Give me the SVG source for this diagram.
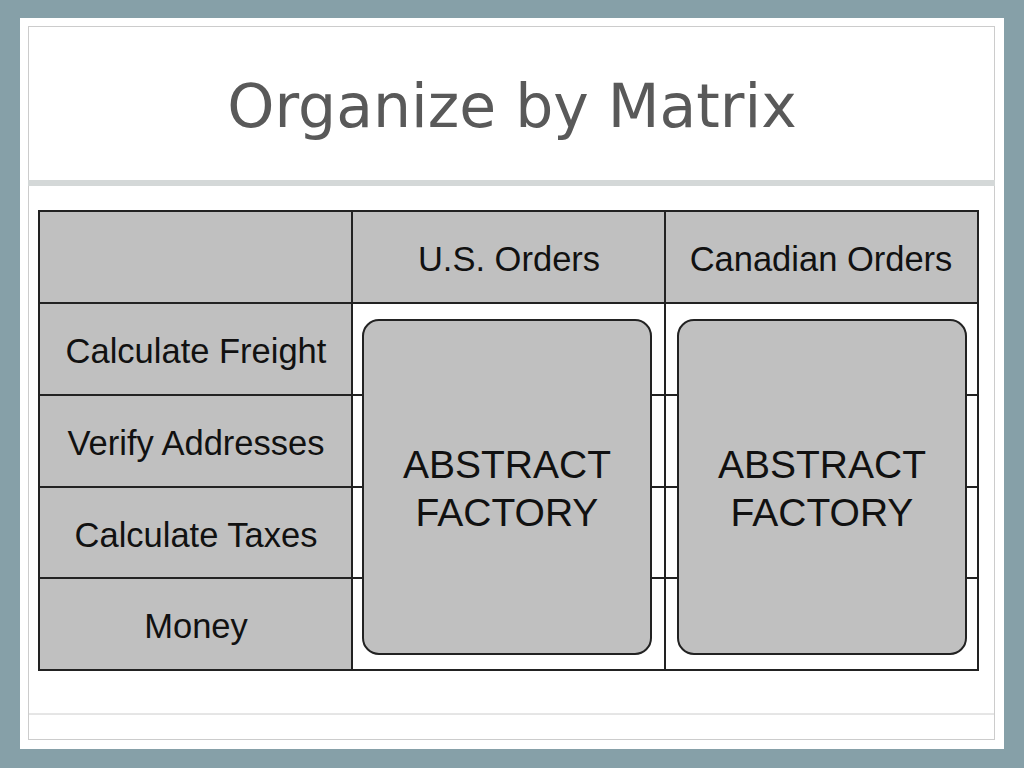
<svg xmlns="http://www.w3.org/2000/svg" width="1024" height="768" viewBox="0 0 1024 768">
<style>
.cell{fill:#c0c0c0;stroke:#222;stroke-width:2}
.ln{stroke:#222;stroke-width:2}
.t{font-family:"Liberation Sans",Arial,sans-serif;fill:#111;text-anchor:middle}
.s{font-size:34.5px}
</style>
<rect width="1024" height="768" fill="#86a0a8"/>
<rect x="20" y="18" width="984" height="731" fill="#fff"/>
<rect x="28.5" y="26.5" width="966" height="713" fill="none" stroke="#ccc"/>
<rect x="28" y="180" width="967" height="6" fill="#d4d8d8"/>
<line x1="28" y1="714" x2="995" y2="714" stroke="#ccc"/>
<text x="512" y="127" font-family="'DejaVu Sans',Verdana,sans-serif" font-size="60" fill="#595959" text-anchor="middle">Organize by Matrix</text>
<g id="table">
<rect x="39" y="211" width="939" height="459" fill="#fff" class="ln"/>
<rect class="cell" x="39" y="211" width="313" height="92"/>
<rect class="cell" x="352" y="211" width="313" height="92"/>
<rect class="cell" x="665" y="211" width="313" height="92"/>
<rect class="cell" x="39" y="303" width="313" height="92"/>
<rect class="cell" x="39" y="395" width="313" height="92"/>
<rect class="cell" x="39" y="487" width="313" height="91"/>
<rect class="cell" x="39" y="578" width="313" height="92"/>
<line class="ln" x1="352" y1="395" x2="978" y2="395"/>
<line class="ln" x1="352" y1="487" x2="978" y2="487"/>
<line class="ln" x1="352" y1="578" x2="978" y2="578"/>
<line class="ln" x1="665" y1="303" x2="665" y2="670"/>
<text class="t s" x="509" y="271">U.S. Orders</text>
<text class="t s" x="821" y="271">Canadian Orders</text>
<text class="t s" x="196" y="363">Calculate Freight</text>
<text class="t s" x="196" y="455">Verify Addresses</text>
<text class="t s" x="196" y="547">Calculate Taxes</text>
<text class="t s" x="196" y="638">Money</text>
</g>
<g id="af1">
<rect class="cell" x="363" y="320" width="288" height="334" rx="16"/>
<text class="t" x="507" y="478" font-size="39">ABSTRACT</text>
<text class="t" x="507" y="526" font-size="39">FACTORY</text>
</g>
<g id="af2">
<rect class="cell" x="678" y="320" width="288" height="334" rx="16"/>
<text class="t" x="822" y="478" font-size="39">ABSTRACT</text>
<text class="t" x="822" y="526" font-size="39">FACTORY</text>
</g>
</svg>
